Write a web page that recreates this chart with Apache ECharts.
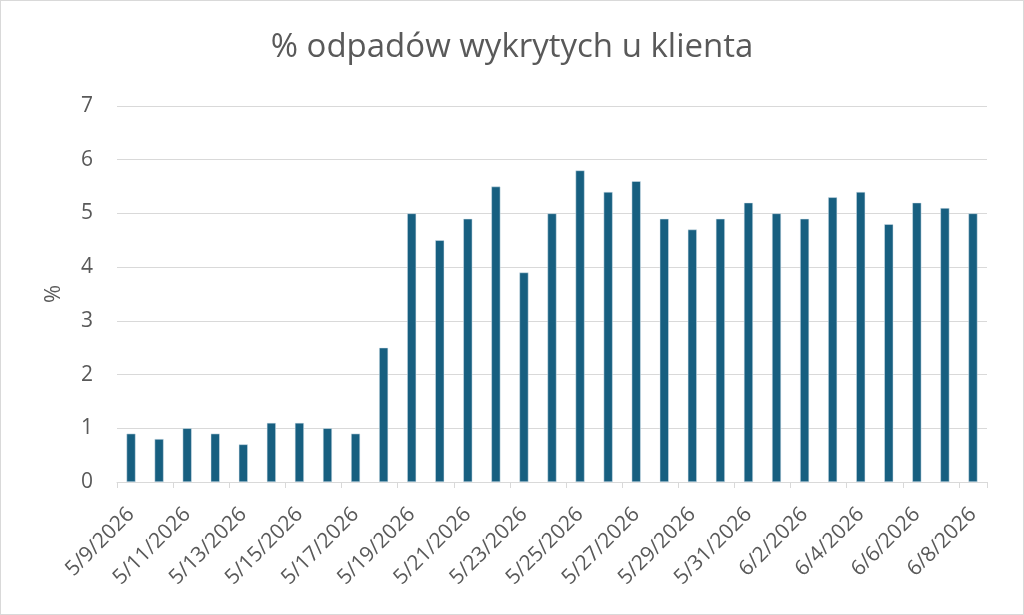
<!DOCTYPE html>
<html>
<head>
<meta charset="utf-8">
<script src="https://cdn.jsdelivr.net/npm/echarts@6/dist/echarts.min.js"></script>
<style>
  html, body { margin:0; padding:0; background:#fff; }
  #chart { width:1024px; height:615px; box-sizing:border-box; border:1px solid #d9d9d9; }
</style>
</head>
<body>
<div id="chart"></div>
<script>
// Daily % of waste detected at the customer
const dates = [
  '5/9/2026','5/10/2026','5/11/2026','5/12/2026','5/13/2026','5/14/2026','5/15/2026',
  '5/16/2026','5/17/2026','5/18/2026','5/19/2026','5/20/2026','5/21/2026','5/22/2026',
  '5/23/2026','5/24/2026','5/25/2026','5/26/2026','5/27/2026','5/28/2026','5/29/2026',
  '5/30/2026','5/31/2026','6/1/2026','6/2/2026','6/3/2026','6/4/2026','6/5/2026',
  '6/6/2026','6/7/2026','6/8/2026'
];
const wastePct = [
  0.9, 0.8, 1.0, 0.9, 0.7, 1.1, 1.1,
  1.0, 0.9, 2.5, 5.0, 4.5, 4.9, 5.5,
  3.9, 5.0, 5.8, 5.4, 5.6, 4.9, 4.7,
  4.9, 5.2, 5.0, 4.9, 5.3, 5.4, 4.8,
  5.2, 5.1, 5.0
];

const TEXT = '#595959', GRID = '#d9d9d9', BAR = '#175f80';
const FONT = "'Open Sans', sans-serif";

const c = echarts.init(document.getElementById('chart'), null, { renderer:'canvas' });
c.setOption({
  backgroundColor:'#ffffff',
  animation:false,
  title:{ text:'% odpadów wykrytych u klienta', left:'center', top:25,
    textStyle:{ color:TEXT, fontFamily:FONT, fontSize:33, fontWeight:'normal' } },
  grid:{ left:116, right:36, top:105, bottom:132 },
  xAxis:{ type:'category', data:dates,
    axisLine:{ lineStyle:{ color:GRID } },
    axisTick:{ show:true, interval:1, length:6, lineStyle:{ color:GRID } },
    axisLabel:{ interval:1, rotate:45, color:TEXT, fontFamily:FONT, fontSize:21, margin:29 } },
  yAxis:{ type:'value', min:0, max:7, interval:1,
    name:'%', nameLocation:'middle', nameGap:52, nameRotate:90,
    nameTextStyle:{ color:TEXT, fontFamily:FONT, fontSize:22 },
    axisLine:{ show:false }, axisTick:{ show:false },
    axisLabel:{ color:TEXT, fontFamily:FONT, fontSize:21, margin:24 },
    splitLine:{ lineStyle:{ color:GRID, width:1 } } },
  series:[{ type:'bar', data:wastePct, barWidth:9,
    itemStyle:{ color:BAR, borderColor:'#dbe6ee', borderWidth:0.5 } }]
});
</script>
</body>
</html>
